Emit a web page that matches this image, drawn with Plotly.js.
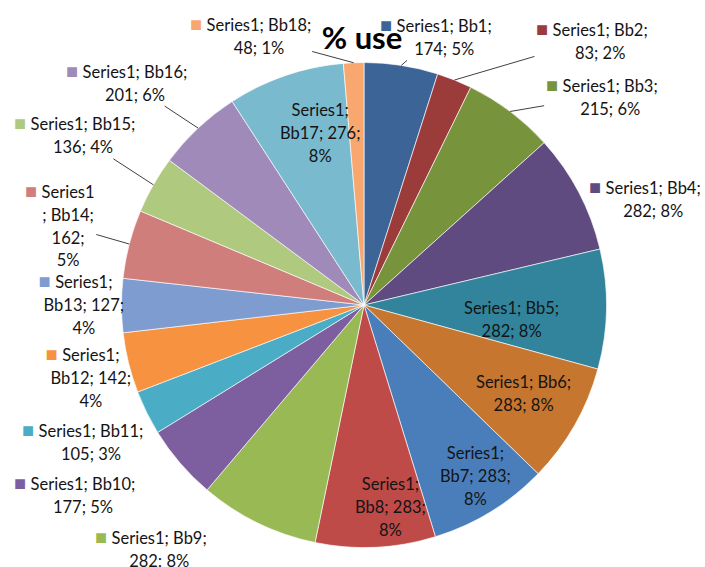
<!DOCTYPE html>
<html><head><meta charset="utf-8">
<script src="https://cdn.plot.ly/plotly-3.0.1.min.js"></script>
<style>html,body{margin:0;padding:0;background:#fff}</style>
</head><body><div id="chart" style="width:705px;height:567px"></div>
<script>
// ---- data ----
const seriesName = 'Series1';
const categories = ['Bb1','Bb2','Bb3','Bb4','Bb5','Bb6','Bb7','Bb8','Bb9','Bb10','Bb11','Bb12','Bb13','Bb14','Bb15','Bb16','Bb17','Bb18'];
const values = [174,83,215,282,282,283,283,283,282,177,105,142,127,162,136,201,276,48];
const chartTitle = '% use';

// ---- styles / layout ----
const colors = ['#3C6496','#9B3C3A','#77933C','#5F4B7F','#31849B','#C6762F',
                '#4A7EBB','#BE4B48','#98B954','#7D5FA0','#4BACC6','#F69240',
                '#7E9CCF','#D07E7C','#AFC97E','#9F8AB9','#7ABACF','#F8A86F'];
const W = 705, H = 567, CX = 364, CY = 305, R = 242.5;
// pixel offset of each label's text centre from its slice's rim point
const labelOffsets = [[43,-30],[146,-40.5],[100,-15.5],[75,5],[-94.5,10],[-51,-32],
                      [-15,-36],[15,-40],[-98,24],[-97,30],[-56,28],[-37.5,13],
                      [-37.5,-3],[-61,-20],[-70,-51],[-63,-47],[34.5,57.5],[-95,-28]];
const leader = [1,1,1,0,0,0,0,0,0,0,0,0,0,1,1,1,0,1];
const inside = [0,0,0,0,1,1,1,1,0,0,0,0,0,0,0,0,1,0];
// wrap pattern: 0 = "S; C;|v; p", 1 = "S;|C; v;|p", 2 = "S|; C;|v;|p"
const wrap = [0,0,0,0,0,0,1,1,0,0,0,1,1,2,0,0,1,0];
const FONT = 'Lato, "Open Sans", sans-serif';
const FS = 16.5;        // text size
const LINE_FS = 17.5;   // controls line spacing
const KEY_FS = 20;      // legend key glyph size
const KEY_W = 17;       // approx width of key + gap (px)

const total = values.reduce((a,b)=>a+b,0);
const pct = v => Math.round(v/total*100) + '%';
const span = t => `<span style="font-size:${FS}px">${t}</span>`;

function labelText(i){
  const s = seriesName, c = categories[i], v = values[i], p = pct(v);
  let lines;
  if (wrap[i] === 0) lines = [`${s}; ${c};`, `${v}; ${p}`];
  else if (wrap[i] === 1) lines = [`${s};`, `${c}; ${v};`, p];
  else lines = [s, `; ${c};`, `${v};`, p];
  lines = lines.map(span);
  if (!inside[i]) {
    const key = `<span style="font-size:${KEY_FS}px;color:${colors[i]}">■</span>\u00a0`;
    const pad = `<span style="font-size:${KEY_FS}px;color:rgba(0,0,0,0)">■</span>\u00a0`;
    lines = lines.map((l,k)=> (k===0 ? key : pad) + l);
  }
  return lines.join('<br>');
}

const annotations = [];
let cum = 0;
values.forEach((v,i)=>{
  const th = (cum + v/2)/total * 2*Math.PI;
  cum += v;
  const px = CX + R*Math.sin(th), py = CY - R*Math.cos(th);
  annotations.push({
    xref:'paper', yref:'paper', x: px/W, y: 1 - py/H,
    ax: labelOffsets[i][0] - (inside[i] ? 0 : KEY_W/2), ay: labelOffsets[i][1],
    showarrow: true, arrowhead: 0, arrowwidth: 1, standoff: 0,
    arrowcolor: leader[i] ? '#404040' : 'rgba(0,0,0,0)',
    text: labelText(i), align:'center',
    font:{family: FONT, size: LINE_FS, color:'#141414'}
  });
});

const trace = {
  type:'pie', values: values, labels: categories, sort:false,
  direction:'clockwise', rotation:0, textinfo:'none', hoverinfo:'label+value+percent',
  marker:{colors: colors, line:{color:'rgba(255,255,255,0.8)', width:0.8}},
  domain:{x:[(CX-R)/W,(CX+R)/W], y:[1-(CY+R)/H, 1-(CY-R)/H]}
};

const layout = {
  width: W, height: H, margin:{l:0,r:0,t:0,b:0},
  paper_bgcolor:'#fff', showlegend:false,
  title:{text:'<b>'+chartTitle+'</b>', font:{family:FONT, size:31, color:'#000'},
         x:362/W, xanchor:'center', y:1-38/H, yanchor:'middle'},
  annotations: annotations
};
Plotly.newPlot('chart',[trace],layout,{displayModeBar:false, staticPlot:true});
</script></body></html>
